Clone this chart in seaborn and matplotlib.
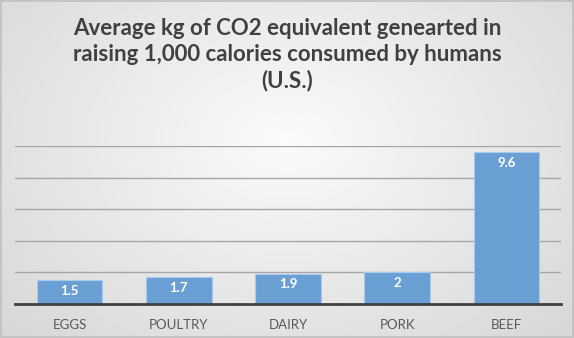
import numpy as np
import pandas as pd
import matplotlib
matplotlib.use("Agg")
import matplotlib.pyplot as plt
import seaborn as sns

categories = ["EGGS", "POULTRY", "DAIRY", "PORK", "BEEF"]
values = [1.5, 1.7, 1.9, 2, 9.6]
value_labels = ["1.5", "1.7", "1.9", "2", "9.6"]
title = "Average kg of CO2 equivalent genearted in\nraising 1,000 calories consumed by humans\n(U.S.)"

sns.set_theme(style="white")
plt.rcParams['font.family'] = ['Lato', 'DejaVu Sans']

df = pd.DataFrame({"cat": categories, "val": values})

fig = plt.figure(figsize=(5.74, 3.38), dpi=100)

# gradient background
bg = fig.add_axes([0, 0, 1, 1], zorder=-10)
yy, xx = np.mgrid[0:338, 0:574]
r = np.sqrt(((xx - 287) / 420.0) ** 2 + ((yy - 140) / 300.0) ** 2)
g = 0.985 - 0.15 * np.clip(r, 0, 1)
bg.imshow(np.dstack([g, g, g]), extent=[0, 1, 0, 1], aspect='auto')
bg.set_axis_off()
fig.patches.append(plt.Rectangle((0.001, 0.002), 0.997, 0.995, transform=fig.transFigure,
                                 fill=False, edgecolor="#bfbfbf", linewidth=1.2))

ax = fig.add_axes([15 / 574, 1 - 304 / 338, (561 - 15) / 574, (304 - 146) / 338])
ax.set_facecolor("none")
sns.barplot(data=df, x="cat", y="val", ax=ax, color="#6a9fd4", width=0.6,
            edgecolor="#a9c9ea", linewidth=0.8, saturation=1, zorder=3)
ax.set_ylim(0, 10)
ax.set_xlim(-0.5, 4.5)
ax.set_yticks([2, 4, 6, 8, 10])
ax.yaxis.grid(True, color="#a6a6a6", linewidth=1)
ax.set_axisbelow(True)
ax.tick_params(axis='y', left=False, labelleft=False)
ax.tick_params(axis='x', bottom=False, labelsize=9.5, labelcolor="#595959", pad=5)
for s in ["top", "right", "left"]:
    ax.spines[s].set_visible(False)
ax.spines["bottom"].set_color("#404040")
ax.spines["bottom"].set_linewidth(2)
ax.spines["bottom"].set_zorder(5)
ax.set_xlabel("")
ax.set_ylabel("")

for i, (v, lab) in enumerate(zip(values, value_labels)):
    ax.annotate(lab, (i, v), xytext=(0, -7.5), textcoords="offset points",
                ha="center", va="center", color="white", fontsize=9.5, fontweight="bold", zorder=6)

fig.text(0.5, 0.838, title, ha="center", va="center", fontsize=16, fontweight="bold",
         color="#404040", linespacing=1.3)

fig.savefig("out.png", dpi=100)
